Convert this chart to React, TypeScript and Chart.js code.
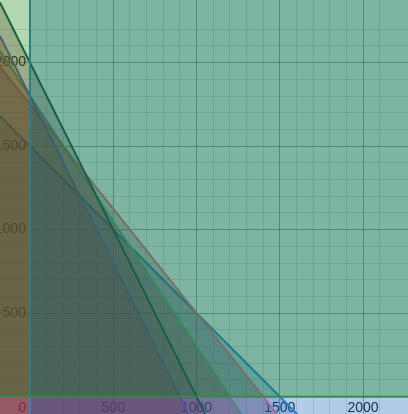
import React, { useEffect, useRef } from 'react';
import Chart from 'chart.js/auto';

// visible window of the plot (the chart area fills the whole page)
const X_MIN = -180;
const X_MAX = 2270;
const Y_MIN = -104;
const Y_MAX = 2375;

// constraint lines, given by their axis intercepts (drawn bottom to top)
const xIntercepts = [1500, 1400, 1200, 900, 1000];
const yIntercepts = [1500, 1750, 1800, 1800, 2000];

const xTickLabels = [0, 500, 1000, 1500, 2000];
const yTickLabels = [500, 1000, 1500, 2000];

// styles
const lineColors = ['rgb(60,140,200)', 'rgb(250,110,130)', 'rgb(105,165,105)', 'rgb(105,95,195)', 'rgb(45,80,75)'];
const fillColors = [
  'rgba(30,100,200,0.25)',
  'rgba(135,50,60,0.3)',
  'rgba(135,50,60,0.3)',
  'rgba(135,50,60,0.3)',
  'rgba(135,50,60,0.3)',
];
const xAxisFill = 'rgba(0,85,178,0.3)';
const yAxisFill = 'rgba(0,125,0,0.3)';
const fontFamily = "'Liberation Sans', Arial, sans-serif";

const gridColor = (ctx: any) => {
  const v = ctx.tick ? ctx.tick.value : NaN;
  if (v % 500 === 0) return 'rgba(0,0,0,0.35)';
  if (v % 100 === 0) return 'rgba(0,0,0,0.12)';
  return 'rgba(0,0,0,0)';
};

// axes sit inside the plot, so they should not push the chart area in
const noPadding = (scale: any) => {
  scale.paddingTop = 0;
  scale.paddingBottom = 0;
  scale.paddingLeft = 0;
  scale.paddingRight = 0;
};

const App = () => {
  const chartRef = useRef<HTMLCanvasElement>(null);
  const chartInstance = useRef<Chart | null>(null);

  useEffect(() => {
    if (!chartRef.current) return;
    if (chartInstance.current) chartInstance.current.destroy();
    const ctx = chartRef.current.getContext('2d');
    if (!ctx) return;

    const constraintSets = xIntercepts.map((xi, i) => {
      const yi = yIntercepts[i];
      return {
        data: [
          { x: X_MIN, y: yi * (1 - X_MIN / xi) },
          { x: X_MAX, y: yi * (1 - X_MAX / xi) },
        ],
        borderColor: lineColors[i],
        backgroundColor: fillColors[i],
        borderWidth: 2,
        fill: 'start',
        order: 7 - i,
      };
    });

    chartInstance.current = new Chart(ctx, {
      type: 'line',
      data: {
        datasets: [
          ...constraintSets,
          {
            // x >= 0 half plane
            data: [{ x: 0, y: Y_MAX }, { x: X_MAX, y: Y_MAX }],
            borderWidth: 0,
            borderColor: 'rgba(0,0,0,0)',
            backgroundColor: xAxisFill,
            fill: 'start',
            order: 2,
          },
          {
            data: [{ x: 0, y: Y_MIN }, { x: 0, y: Y_MAX }],
            borderColor: 'rgb(60,130,195)',
            borderWidth: 2,
            fill: false,
            order: 1,
          },
          {
            // y >= 0 half plane
            data: [{ x: X_MIN, y: 0 }, { x: X_MAX, y: 0 }],
            borderColor: 'rgb(55,140,65)',
            backgroundColor: yAxisFill,
            borderWidth: 2,
            fill: 'end',
            order: 0,
          },
        ],
      },
      options: {
        responsive: true,
        maintainAspectRatio: false,
        animation: false,
        layout: { padding: 0, autoPadding: false },
        elements: { point: { radius: 0 }, line: { tension: 0 } },
        plugins: {
          legend: { display: false },
          tooltip: { enabled: false },
        },
        scales: {
          x: {
            type: 'linear',
            min: X_MIN,
            max: X_MAX,
            position: { y: 0 },
            afterFit: noPadding,
            border: { display: false },
            grid: { color: gridColor, drawTicks: false, lineWidth: 1 },
            ticks: {
              stepSize: 100,
              autoSkip: false,
              maxRotation: 0,
              padding: 3,
              color: '#222',
              font: { family: fontFamily, size: 14 },
              callback: (v: any) => {
                if (!xTickLabels.includes(v)) return '';
                return v === 0 ? '0    ' : String(v);
              },
            },
          },
          y: {
            type: 'linear',
            min: Y_MIN,
            max: Y_MAX,
            position: { x: 0 },
            afterFit: noPadding,
            border: { display: false },
            grid: { color: gridColor, drawTicks: false, lineWidth: 1 },
            ticks: {
              stepSize: 100,
              autoSkip: false,
              color: '#222',
              font: { family: fontFamily, size: 14 },
              callback: (v: any) => (yTickLabels.includes(v) ? `${v} ` : ''),
            },
          },
        },
      },
    });

    return () => {
      if (chartInstance.current) {
        chartInstance.current.destroy();
        chartInstance.current = null;
      }
    };
  }, []);

  return (
    <div style={{ position: 'fixed', left: 0, top: 0, width: 408, height: 414, background: '#fff' }}>
      <canvas ref={chartRef}></canvas>
    </div>
  );
};

export default App;
